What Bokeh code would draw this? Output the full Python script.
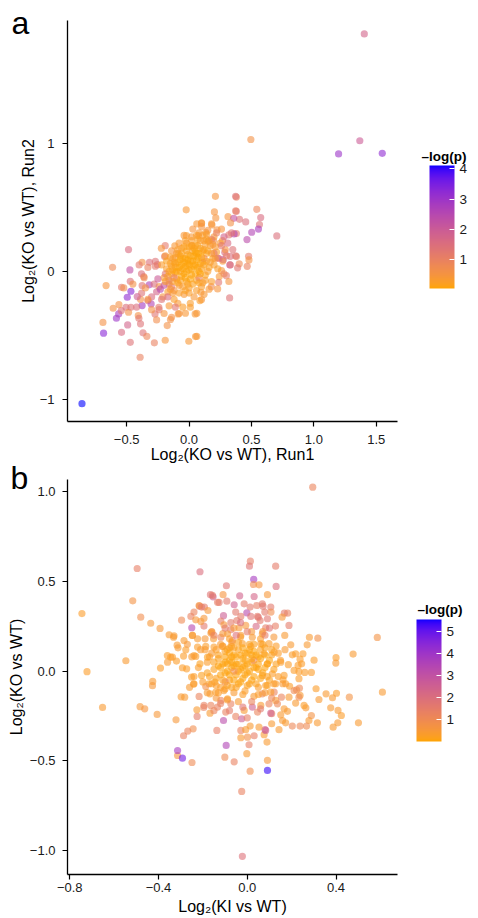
from bokeh.plotting import figure
from bokeh.models import LinearColorMapper, ColorBar, FixedTicker, ColumnDataSource
from bokeh.layouts import column
from bokeh.embed import file_html
from bokeh.resources import INLINE

# ---------------- data: panel a (x = Run1, y = Run2, p = -log(p)) ----------------
a_outliers = [
    (-0.858, -1.035, 4.1), (1.404, 1.855, 1.8), (0.495, 1.03, 0.6), (1.368, 1.02, 2.0),
    (1.198, 0.917, 3.0), (1.548, 0.922, 3.2), (0.703, 0.276, 1.5),
]
a_right = [
    (0.379, 0.58, 1.0), (0.379, 0.469, 1.3), (0.543, 0.484, 0.9), (0.574, 0.42, 1.6),
    (0.454, 0.386, 1.5), (0.404, 0.406, 1.4), (0.564, 0.365, 1.4), (0.556, 0.33, 2.8),
    (0.502, 0.305, 2.6), (0.464, 0.248, 2.4), (0.477, 0.117, 1.2), (0.48, 0.089, 0.6),
    (0.466, 0.039, 1.0), (0.402, 0.058, 0.8), (0.389, 0.027, 1.3), (0.38, 0.115, 1.0),
    (0.379, 0.295, 1.2),
    (0.211, 0.586, 0.5), (0.373, 0.586, 1.4), (0.203, 0.464, 0.5), (0.373, 0.472, 1.1),
    (0.214, 0.417, 0.5), (0.312, 0.427, 0.5), (0.358, 0.414, 2.2), (0.332, 0.378, 0.6),
    (0.183, 0.362, 0.5), (0.1, 0.375, 0.4), (0.224, 0.323, 0.5), (0.134, 0.305, 0.4),
    (0.319, 0.284, 1.3), (0.361, 0.292, 2.6), (0.075, 0.279, 0.4), (0.152, 0.234, 0.3),
    (0.196, 0.24, 0.8), (0.268, 0.24, 0.5), (0.286, 0.148, 1.6), (0.229, 0.104, 1.4),
    (0.273, 0.091, 2.4), (0.33, 0.117, 1.5), (0.373, 0.12, 1.3), (0.327, 0.05, 2.4),
    (0.26, 0.005, 0.4), (0.242, -0.041, 0.4), (0.299, -0.034, 1.2), (0.319, -0.08, 0.5),
    (0.237, -0.086, 1.3), (0.178, -0.12, 0.8), (0.229, -0.138, 0.5), (0.325, -0.208, 1.4),
    (0.095, -0.164, 0.4), (0.1, -0.221, 0.5), (0.062, -0.328, 0.4), (0.062, -0.508, 0.4),
]
a_left = [
    (-0.023, 0.48, 0.4), (-0.485, 0.17, 1.6), (-0.613, 0.031, 0.8), (-0.474, 0.011, 2.3),
    (-0.665, -0.112, 0.5), (-0.471, -0.078, 1.5), (-0.541, -0.125, 1.2), (-0.523, -0.13, 0.7),
    (-0.466, -0.156, 3.3), (-0.495, -0.203, 3.2), (-0.376, -0.112, 1.4), (-0.319, -0.106, 2.7),
    (-0.363, -0.041, 0.9), (-0.381, -0.02, 1.5), (-0.376, 0.07, 0.6), (-0.317, 0.07, 1.5),
    (-0.27, 0.078, 1.4), (-0.253, 0.052, 1.3), (-0.191, 0.2, 1.2), (-0.222, 0.18, 0.5),
    (-0.196, 0.115, 1.3), (-0.608, -0.289, 0.6), (-0.69, -0.4, 0.6), (-0.685, -0.484, 3.3),
    (-0.582, -0.367, 3.0), (-0.564, -0.333, 2.8), (-0.543, -0.307, 1.4), (-0.562, -0.26, 0.6),
    (-0.505, -0.281, 1.5), (-0.485, -0.32, 0.6), (-0.466, -0.281, 1.4), (-0.492, -0.419, 1.8),
    (-0.541, -0.477, 1.6), (-0.471, -0.555, 1.4), (-0.407, -0.346, 0.6), (-0.402, -0.367, 1.3),
    (-0.389, -0.411, 1.4), (-0.369, -0.481, 1.4), (-0.338, -0.508, 0.9), (-0.278, -0.559, 1.0),
    (-0.191, -0.539, 0.5), (-0.392, -0.672, 1.0), (-0.175, -0.424, 0.6), (-0.149, -0.377, 0.6),
    (-0.273, -0.333, 1.3), (-0.376, -0.268, 2.9), (-0.389, -0.219, 0.6), (-0.415, -0.198, 2.0),
    (-0.33, -0.229, 1.4), (-0.304, -0.255, 2.6), (-0.242, -0.281, 1.2), (-0.002, -0.547, 0.4),
    (0.052, -0.51, 0.4), (-0.087, -0.333, 0.4), (-0.029, -0.328, 0.4), (0.01, -0.281, 0.3),
    (0.049, -0.333, 0.4), (0.087, -0.229, 0.3), (0.023, 0.2, 0.3), (0.062, 0.37, 0.4),
    (0.1, 0.378, 0.4), (-0.021, 0.279, 0.3), (-0.114, 0.198, 0.4), (-0.087, 0.136, 0.3),
    (-0.45, -0.10, 0.6), (-0.40, 0.05, 1.2), (-0.42, -0.28, 1.5), (-0.36, -0.05, 0.8),
    (-0.33, 0.03, 1.0), (-0.38, -0.17, 1.4),
]
a_core = [
    (-0.20, -0.05, 0.4), (-0.18, 0.02, 0.3), (-0.16, -0.10, 0.5), (-0.15, 0.06, 0.3),
    (-0.14, -0.02, 0.2), (-0.13, 0.10, 0.4), (-0.12, -0.15, 0.5), (-0.11, 0.03, 0.2),
    (-0.10, -0.06, 0.3), (-0.10, 0.14, 0.3), (-0.09, 0.07, 0.1), (-0.08, -0.11, 0.4),
    (-0.07, 0.00, 0.2), (-0.06, 0.18, 0.3), (-0.06, -0.04, 0.1), (-0.05, 0.10, 0.2),
    (-0.04, -0.18, 0.4), (-0.03, 0.04, 0.1), (-0.02, 0.22, 0.3), (-0.02, -0.08, 0.2),
    (-0.01, 0.13, 0.2), (0.00, 0.01, 0.1), (0.00, -0.13, 0.3), (0.01, 0.08, 0.1),
    (0.02, 0.27, 0.4), (0.02, -0.03, 0.1), (0.03, 0.16, 0.2), (0.04, -0.20, 0.4),
    (0.05, 0.05, 0.1), (0.05, 0.20, 0.2), (0.06, -0.07, 0.2), (0.07, 0.11, 0.1),
    (0.08, 0.30, 0.4), (0.08, 0.00, 0.1), (0.09, 0.18, 0.2), (0.10, -0.12, 0.3),
    (0.11, 0.07, 0.2), (0.12, 0.24, 0.3), (0.13, -0.03, 0.2), (0.14, 0.14, 0.2),
    (0.15, 0.32, 0.5), (0.16, 0.03, 0.2), (0.17, 0.20, 0.3), (0.18, -0.08, 0.3),
    (0.19, 0.10, 0.2), (0.20, 0.27, 0.4), (0.22, 0.15, 0.3), (0.23, 0.02, 0.3),
    (0.25, 0.22, 0.4), (0.26, 0.33, 0.5), (0.27, 0.08, 0.4), (0.29, 0.17, 0.5),
    (-0.24, -0.12, 0.4), (-0.22, 0.05, 0.3), (-0.21, -0.20, 0.5), (-0.19, 0.12, 0.4),
    (-0.17, -0.16, 0.3), (-0.16, -0.27, 0.4), (-0.14, 0.16, 0.5), (-0.12, -0.22, 0.3),
    (-0.09, -0.25, 0.4), (-0.08, 0.22, 0.4), (-0.05, -0.28, 0.3), (-0.04, 0.28, 0.4),
    (-0.03, -0.15, 0.2), (0.01, -0.25, 0.3), (0.03, 0.33, 0.5), (0.06, -0.15, 0.3),
    (0.07, 0.25, 0.2), (0.10, 0.35, 0.5), (0.12, -0.18, 0.4), (0.14, 0.29, 0.3),
    (0.16, -0.14, 0.4), (0.18, 0.37, 0.4), (-0.07, 0.12, 0.1), (-0.01, 0.06, 0.1),
    (0.04, 0.12, 0.1), (0.09, 0.06, 0.1), (-0.11, -0.01, 0.2), (-0.04, -0.02, 0.1),
    (0.02, 0.20, 0.2), (0.11, 0.16, 0.2), (-0.13, 0.01, 0.2), (0.06, 0.14, 0.1),
    (-0.28, -0.10, 1.5), (-0.26, -0.16, 1.8), (-0.25, -0.06, 2.0), (-0.23, -0.14, 2.5),
    (-0.22, -0.22, 1.4), (-0.20, -0.11, 2.2), (-0.19, -0.02, 1.3), (-0.17, -0.20, 1.6),
    (-0.16, -0.07, 1.9), (-0.14, -0.12, 1.2), (-0.12, -0.05, 1.0), (-0.11, -0.28, 1.3),
    (-0.27, 0.04, 1.2), (-0.30, -0.20, 1.6), (-0.24, -0.30, 1.2),
    (0.20, 0.14, 1.2), (0.22, 0.30, 1.0), (0.24, 0.10, 1.5), (0.26, 0.20, 1.3),
    (0.28, 0.27, 1.8), (0.30, 0.12, 1.1), (0.31, 0.22, 1.6), (0.33, 0.05, 1.2),
    (0.35, 0.17, 1.4), (0.18, 0.25, 1.1), (0.12, 0.10, 0.9), (0.08, -0.05, 1.0),
    (0.28, -0.02, 0.9), (0.34, 0.30, 1.3),
    (-0.30, -0.30, 0.6), (-0.26, -0.38, 0.7), (-0.20, -0.33, 0.5), (-0.14, -0.36, 0.6),
    (-0.08, -0.33, 0.5), (-0.33, -0.22, 0.5), (-0.35, -0.13, 0.6),
]
a_dense = [
    (-0.19, -0.08, 0.3), (-0.18, 0.08, 0.2), (-0.17, -0.04, 0.3), (-0.16, 0.00, 0.2),
    (-0.15, -0.14, 0.4), (-0.14, 0.04, 0.2), (-0.13, -0.08, 0.3), (-0.12, 0.07, 0.2),
    (-0.11, 0.11, 0.3), (-0.10, 0.00, 0.1), (-0.09, -0.09, 0.2), (-0.09, 0.17, 0.3),
    (-0.08, 0.03, 0.1), (-0.07, -0.07, 0.2), (-0.07, 0.09, 0.1), (-0.06, 0.14, 0.2),
    (-0.05, -0.12, 0.3), (-0.05, 0.02, 0.1), (-0.04, 0.07, 0.1), (-0.04, 0.19, 0.2),
    (-0.03, -0.05, 0.1), (-0.03, 0.10, 0.1), (-0.02, 0.00, 0.1), (-0.02, 0.16, 0.2),
    (-0.01, -0.10, 0.2), (-0.01, 0.09, 0.1), (0.00, 0.05, 0.1), (0.00, 0.19, 0.2),
    (0.01, -0.06, 0.1), (0.01, 0.12, 0.1), (0.02, 0.02, 0.1), (0.03, 0.08, 0.1),
    (0.03, -0.10, 0.2), (0.04, 0.18, 0.2), (0.04, 0.04, 0.1), (0.05, -0.02, 0.1),
    (0.05, 0.15, 0.1), (0.06, 0.09, 0.1), (0.07, 0.03, 0.1), (0.07, 0.20, 0.2),
    (0.08, -0.09, 0.2), (0.08, 0.14, 0.1), (0.09, 0.24, 0.3), (0.10, 0.02, 0.2),
    (0.10, 0.11, 0.1), (0.11, 0.28, 0.3), (0.12, 0.05, 0.2), (0.12, 0.17, 0.2),
    (0.13, -0.07, 0.3), (0.13, 0.21, 0.3), (0.14, 0.08, 0.2), (0.15, 0.00, 0.3),
    (0.15, 0.16, 0.2), (0.16, 0.24, 0.3), (0.17, 0.07, 0.3), (0.18, 0.14, 0.3),
    (0.19, 0.21, 0.4), (0.20, 0.05, 0.3), (0.21, 0.10, 0.4), (0.21, 0.19, 0.4),
    (-0.15, 0.11, 0.3), (-0.13, -0.17, 0.4), (-0.11, 0.06, 0.2), (-0.08, -0.17, 0.3),
    (-0.06, 0.05, 0.1), (-0.03, 0.24, 0.3), (0.00, -0.17, 0.3), (0.02, 0.24, 0.3),
    (0.06, 0.28, 0.3), (0.09, -0.02, 0.1), (0.11, -0.09, 0.3), (0.14, 0.25, 0.3),
]

# ---------------- data: panel b (x = KI vs WT, y = KO vs WT, p = -log(p)) ----------------
b_outer = [
    (-0.745, 0.321, 0.3), (-0.722, -0.003, 0.3), (-0.652, -0.202, 0.4), (-0.547, 0.058, 0.4),
    (-0.496, 0.572, 1.4), (-0.516, 0.392, 0.7), (-0.48, 0.301, 0.9), (-0.435, 0.267, 0.5),
    (-0.483, -0.198, 0.5), (-0.462, -0.21, 0.6), (-0.426, -0.057, 0.4), (-0.427, -0.081, 0.5),
    (-0.406, -0.241, 0.5), (-0.393, 0.238, 0.5), (-0.391, 0.017, 0.3), (-0.359, 0.05, 0.4),
    (-0.352, 0.203, 0.4), (-0.33, 0.197, 0.4), (-0.316, 0.145, 0.4), (-0.321, -0.271, 0.5),
    (-0.314, -0.47, 0.6), (-0.314, -0.442, 3.8), (-0.292, -0.485, 4.8), (-0.287, -0.36, 1.3),
    (-0.268, -0.334, 1.2), (-0.249, -0.509, 1.0), (-0.244, -0.321, 0.9), (-0.296, 0.284, 1.0),
    (-0.25, 0.242, 3.4), (-0.247, 0.199, 0.4), (-0.213, 0.554, 2.0), (-0.215, 0.362, 1.4),
    (-0.193, 0.357, 1.5), (-0.195, 0.251, 1.6), (-0.24, 0.329, 1.2), (-0.232, 0.082, 0.3),
    (-0.287, 0.084, 0.3), (-0.298, -0.143, 0.4), (-0.242, -0.072, 0.3), (-0.226, -0.252, 1.5),
    (-0.196, -0.202, 1.3), (-0.137, -0.33, 1.4), (-0.095, -0.414, 3.5), (-0.101, -0.479, 1.0),
    (-0.059, -0.505, 1.3), (-0.166, 0.426, 1.8), (-0.154, 0.414, 2.6), (-0.127, 0.383, 1.6),
    (-0.094, 0.476, 1.8), (-0.107, 0.309, 2.6), (-0.034, 0.42, 2.4),
    (0.295, 1.025, 1.2), (0.014, 0.613, 1.4), (0.01, 0.585, 1.8), (0.128, 0.585, 1.5),
    (0.029, 0.511, 3.8), (0.028, 0.483, 0.9), (0.053, 0.481, 0.6), (0.13, 0.472, 2.0),
    (0.091, 0.426, 0.5), (0.031, 0.416, 2.3), (-0.002, 0.325, 3.3), (0.586, 0.188, 0.7),
    (0.609, -0.117, 0.4), (0.501, -0.288, 0.4), (0.477, 0.095, 0.4), (0.46, -0.145, 0.7),
    (0.4, 0.075, 0.3), (0.399, 0.045, 0.4), (0.402, -0.123, 0.3), (0.409, -0.219, 0.4),
    (0.408, -0.288, 0.4), (0.387, -0.312, 0.4), (0.424, -0.247, 0.3), (0.376, -0.204, 0.4),
    (0.384, -0.148, 0.4), (0.355, -0.126, 0.4), (0.318, 0.184, 0.8), (0.28, 0.189, 0.4),
    (0.27, 0.147, 0.4), (0.251, 0.097, 0.3), (0.301, 0.061, 0.3), (0.289, -0.007, 0.3),
    (0.31, -0.098, 0.3), (0.323, -0.158, 0.4), (0.316, -0.288, 0.4), (0.289, -0.247, 0.7),
    (0.278, -0.275, 0.4), (0.267, -0.306, 1.0), (0.238, -0.306, 1.1), (0.203, -0.306, 1.1),
    (0.264, -0.204, 0.4), (0.256, -0.191, 0.3), (0.238, -0.135, 0.4), (0.235, -0.095, 1.0),
    (0.222, -0.104, 0.8), (0.188, -0.145, 0.4), (0.191, -0.084, 0.3), (0.161, -0.048, 0.3),
    (0.185, 0.036, 0.3), (0.233, -0.003, 0.3), (0.259, -0.007, 0.3), (0.245, 0.041, 0.3),
    (0.238, 0.067, 0.3), (0.218, 0.097, 0.3), (0.196, 0.147, 0.4), (0.203, 0.091, 0.3),
    (0.169, 0.199, 0.4), (0.188, 0.255, 1.5), (0.167, 0.323, 1.6), (0.182, 0.323, 1.3),
    (0.157, 0.301, 0.5), (0.127, 0.251, 1.4), (0.106, 0.357, 1.6), (0.071, 0.362, 1.7),
    (0.107, 0.329, 0.9), (0.091, -0.497, 0.5), (0.091, -0.553, 5.4), (0.013, -0.557, 0.9),
    (-0.025, -0.67, 1.3), (-0.022, -1.032, 1.9), (-0.002, -0.46, 0.4), (0.001, -0.368, 0.8),
    (0.031, -0.36, 1.4), (0.089, -0.395, 0.4), (0.076, -0.354, 0.4), (0.11, -0.293, 0.4),
    (0.08, -0.326, 2.4), (0.053, -0.312, 0.4), (0.013, -0.306, 0.4), (0.11, -0.237, 1.3),
    (0.151, -0.243, 0.4), (0.166, -0.21, 0.4), (0.173, -0.288, 0.4), (0.143, -0.326, 0.4),
    (0.128, -0.163, 0.4), (0.154, -0.145, 1.2), (0.121, -0.117, 1.2), (0.023, -0.2, 2.5),
]
b_upper = [
    (-0.157, 0.422, 1.5), (-0.109, 0.426, 0.6), (-0.134, 0.384, 1.4), (-0.092, 0.39, 1.6),
    (-0.059, 0.37, 2.5), (-0.014, 0.375, 1.5), (0.013, 0.357, 1.6), (0.043, 0.366, 1.4),
    (0.068, 0.375, 1.6), (-0.217, 0.366, 0.6), (-0.206, 0.357, 1.5), (-0.177, 0.338, 0.5),
    (-0.052, 0.329, 1.6), (-0.029, 0.305, 1.5), (0.016, 0.305, 1.8), (0.046, 0.305, 1.5),
    (0.079, 0.329, 1.6), (0.091, 0.292, 1.7), (-0.254, 0.305, 1.3), (-0.232, 0.286, 0.5),
    (-0.209, 0.277, 0.5), (-0.195, 0.295, 0.5), (-0.164, 0.212, 0.5), (-0.119, 0.279, 1.4),
    (-0.105, 0.258, 0.5), (-0.074, 0.27, 1.5), (-0.047, 0.282, 1.5), (-0.074, 0.231, 1.6),
    (-0.037, 0.242, 0.5), (-0.007, 0.255, 0.5), (0.058, 0.282, 1.6), (0.083, 0.242, 1.4),
    (-0.332, 0.189, 0.4), (-0.285, 0.171, 0.4), (-0.247, 0.199, 0.4), (-0.224, 0.18, 0.4),
    (-0.16, 0.217, 0.4), (-0.152, 0.18, 0.4), (-0.119, 0.189, 1.2), (-0.089, 0.208, 0.4),
    (-0.067, 0.171, 1.3), (-0.029, 0.199, 0.4), (0.023, 0.189, 0.4), (0.068, 0.208, 0.4),
    (-0.312, 0.13, 0.4), (-0.277, 0.119, 0.3), (-0.224, 0.134, 0.3), (-0.187, 0.138, 0.3),
    (-0.15, 0.134, 0.3), (-0.112, 0.138, 0.3), (-0.071, 0.138, 0.3), (-0.022, 0.153, 0.3),
    (0.016, 0.138, 0.3), (0.061, 0.153, 0.3), (0.098, 0.153, 0.3), (-0.345, 0.078, 0.3),
]
b_lower = [
    (-0.282, -0.145, 0.4), (-0.36, 0.087, 0.3), (-0.319, 0.056, 0.3), (-0.337, 0.078, 0.3),
    (-0.292, 0.019, 0.3), (-0.273, 0.013, 0.3), (-0.251, -0.033, 0.3), (-0.24, -0.07, 0.3),
    (-0.206, -0.024, 0.2), (-0.213, 0.041, 0.2), (-0.24, 0.087, 0.3), (-0.179, 0.078, 0.2),
    (-0.172, -0.07, 0.2), (-0.187, -0.085, 0.8), (-0.146, -0.061, 0.2), (-0.142, -0.117, 0.3),
    (-0.168, -0.126, 0.3), (-0.105, -0.108, 0.3), (-0.089, -0.154, 0.3), (-0.217, -0.141, 1.2),
    (-0.227, -0.215, 0.4), (-0.195, -0.191, 1.3), (-0.164, -0.191, 1.2), (-0.168, -0.234, 0.4),
    (-0.134, -0.2, 1.3), (-0.119, -0.163, 1.2), (-0.107, -0.275, 3.2), (-0.097, -0.228, 1.3),
    (-0.074, -0.182, 1.3), (-0.052, -0.252, 1.3), (-0.025, -0.265, 2.6), (-0.014, -0.219, 0.4),
    (0.046, -0.228, 1.2), (0.061, -0.191, 0.4), (-0.029, -0.33, 1.3), (-0.007, -0.326, 0.4),
    (-0.029, -0.371, 0.4), (0.008, -0.41, 1.4),
    (0.076, 0.097, 0.3), (0.121, 0.106, 0.3), (0.091, 0.041, 0.3), (0.151, 0.05, 0.3),
    (0.229, 0.032, 0.3), (0.068, -0.024, 0.3), (0.113, -0.015, 0.3), (0.166, -0.024, 0.3),
    (0.211, 0.004, 0.3), (0.233, -0.042, 0.3), (0.128, -0.07, 0.3), (0.173, -0.07, 0.3),
    (0.083, -0.08, 0.3), (0.068, -0.126, 1.1), (0.106, -0.117, 0.3), (0.211, -0.108, 1.0),
    (0.233, -0.145, 1.0), (0.218, -0.178, 0.4), (0.181, -0.224, 0.4), (0.106, -0.234, 2.5),
    (0.098, -0.182, 1.2), (0.136, -0.182, 1.1), (0.159, -0.275, 0.4), (0.083, -0.33, 2.5),
]
b_core = [
    (-0.18, 0.05, 0.3), (-0.17, -0.03, 0.2), (-0.16, 0.10, 0.4), (-0.15, 0.01, 0.2),
    (-0.14, -0.08, 0.3), (-0.13, 0.07, 0.2), (-0.12, 0.15, 0.4), (-0.12, -0.02, 0.1),
    (-0.11, 0.04, 0.1), (-0.10, -0.10, 0.3), (-0.10, 0.11, 0.2), (-0.09, 0.00, 0.1),
    (-0.08, 0.06, 0.1), (-0.08, -0.05, 0.2), (-0.07, 0.16, 0.3), (-0.07, 0.02, 0.1),
    (-0.06, -0.12, 0.4), (-0.06, 0.09, 0.1), (-0.05, -0.02, 0.1), (-0.05, 0.04, 0.1),
    (-0.04, 0.12, 0.2), (-0.04, -0.07, 0.1), (-0.03, 0.01, 0.1), (-0.03, 0.19, 0.3),
    (-0.02, 0.07, 0.1), (-0.02, -0.04, 0.1), (-0.01, -0.11, 0.3), (-0.01, 0.03, 0.1),
    (0.00, 0.10, 0.1), (0.00, -0.01, 0.1), (0.01, 0.15, 0.2), (0.01, -0.07, 0.2),
    (0.02, 0.05, 0.1), (0.03, -0.03, 0.1), (0.03, 0.11, 0.1), (0.04, 0.02, 0.1),
    (0.05, -0.09, 0.3), (0.05, 0.08, 0.1), (0.06, 0.18, 0.3), (0.07, -0.01, 0.1),
    (0.08, 0.13, 0.2), (0.09, 0.04, 0.1), (0.10, -0.05, 0.2), (0.11, 0.09, 0.2),
    (0.12, 0.01, 0.2), (0.13, 0.14, 0.3), (0.14, -0.03, 0.3), (0.15, 0.06, 0.3),
    (-0.22, 0.02, 0.3), (-0.21, 0.12, 0.4), (-0.20, -0.06, 0.3), (-0.19, 0.18, 0.5),
    (-0.18, -0.12, 0.4), (-0.16, 0.22, 0.6), (-0.14, -0.15, 0.5), (-0.11, 0.21, 0.5),
    (-0.09, -0.16, 0.4), (-0.06, 0.24, 0.5), (-0.04, -0.17, 0.4), (0.02, 0.22, 0.5),
    (0.03, -0.14, 0.4), (0.07, 0.22, 0.6), (0.08, -0.12, 0.4), (0.12, 0.19, 0.5),
    (0.16, -0.07, 0.4), (0.17, 0.12, 0.4), (-0.25, 0.08, 0.4), (-0.24, -0.03, 0.3),
    (-0.27, 0.15, 0.5), (-0.26, -0.09, 0.4), (-0.13, 0.03, 0.1), (-0.07, 0.08, 0.1),
    (-0.01, 0.06, 0.1), (0.05, 0.01, 0.1), (-0.10, 0.05, 0.1), (-0.04, 0.00, 0.1),
    (0.02, 0.09, 0.1), (-0.08, 0.13, 0.2), (0.06, 0.12, 0.2), (0.09, -0.08, 0.2),
    (-0.15, 0.20, 1.3), (-0.10, 0.24, 1.6), (-0.05, 0.20, 1.9), (0.00, 0.22, 1.5),
    (0.04, 0.25, 2.2), (0.08, 0.20, 1.4), (0.10, 0.24, 1.8), (-0.03, 0.27, 2.0),
    (0.05, 0.30, 1.7), (-0.12, -0.18, 1.3), (-0.08, -0.22, 1.5), (-0.02, -0.20, 1.8),
    (0.02, -0.17, 1.2), (0.06, -0.21, 1.6), (-0.15, -0.22, 1.2), (0.00, -0.26, 1.4),
    (0.11, -0.15, 1.1), (-0.06, 0.00, 0.9), (0.03, 0.06, 1.0), (-0.10, -0.06, 1.1),
]
b_dense = [
    (-0.15, 0.05, 0.2), (-0.14, 0.12, 0.3), (-0.14, -0.04, 0.2), (-0.13, 0.09, 0.2),
    (-0.12, -0.09, 0.3), (-0.12, 0.02, 0.1), (-0.11, 0.14, 0.3), (-0.11, -0.05, 0.2),
    (-0.10, 0.08, 0.1), (-0.10, -0.01, 0.1), (-0.09, 0.12, 0.2), (-0.09, -0.08, 0.2),
    (-0.09, 0.04, 0.1), (-0.08, 0.10, 0.1), (-0.08, -0.02, 0.1), (-0.07, -0.09, 0.2),
    (-0.07, 0.05, 0.1), (-0.06, 0.13, 0.2), (-0.06, -0.05, 0.1), (-0.06, 0.03, 0.1),
    (-0.05, 0.08, 0.1), (-0.05, -0.09, 0.2), (-0.04, 0.16, 0.2), (-0.04, 0.04, 0.1),
    (-0.03, -0.06, 0.1), (-0.03, 0.09, 0.1), (-0.02, 0.02, 0.1), (-0.02, 0.13, 0.1),
    (-0.01, -0.02, 0.1), (-0.01, 0.10, 0.1), (0.00, 0.04, 0.1), (0.00, -0.08, 0.2),
    (0.01, 0.12, 0.1), (0.01, 0.00, 0.1), (0.02, -0.05, 0.1), (0.02, 0.07, 0.1),
    (0.03, 0.15, 0.2), (0.03, 0.02, 0.1), (0.04, -0.07, 0.2), (0.04, 0.09, 0.1),
    (0.05, 0.04, 0.1), (0.06, -0.04, 0.1), (0.06, 0.07, 0.1), (0.07, 0.15, 0.2),
    (0.08, 0.02, 0.1), (0.08, 0.09, 0.1), (0.09, -0.03, 0.2), (0.10, 0.06, 0.1),
    (0.11, 0.12, 0.2), (0.12, -0.07, 0.3), (-0.17, 0.08, 0.3), (-0.18, -0.01, 0.2),
    (-0.16, -0.07, 0.3), (-0.19, 0.12, 0.4), (-0.13, -0.12, 0.3), (-0.08, 0.18, 0.3),
    (-0.02, -0.13, 0.3), (0.05, -0.13, 0.3), (0.13, 0.04, 0.2), (0.14, 0.10, 0.3),
]

a_xticks = [-0.5, 0.0, 0.5, 1.0, 1.5]
a_yticks = [-1, 0, 1]
b_xticks = [-0.8, -0.4, 0.0, 0.4]
b_yticks = [-1.0, -0.5, 0.0, 0.5, 1.0]
a_cbar_ticks = [1, 2, 3, 4]
b_cbar_ticks = [1, 2, 3, 4, 5]

FONT = "Liberation Sans"


# ---------------- orange -> blue gradient in Lab space ----------------
def _lin(c):
    c = c / 255.0
    return c / 12.92 if c <= 0.04045 else ((c + 0.055) / 1.055) ** 2.4


def _gam(c):
    c = 12.92 * c if c <= 0.0031308 else 1.055 * c ** (1 / 2.4) - 0.055
    return max(0, min(255, round(c * 255)))


def _to_lab(hexc):
    r, g, b = (_lin(int(hexc[i:i + 2], 16)) for i in (1, 3, 5))
    X = (0.4124 * r + 0.3576 * g + 0.1805 * b) / 0.95047
    Y = (0.2126 * r + 0.7152 * g + 0.0722 * b)
    Z = (0.0193 * r + 0.1192 * g + 0.9505 * b) / 1.08883
    f = lambda t: t ** (1 / 3) if t > 0.008856 else 7.787 * t + 16 / 116
    fx, fy, fz = f(X), f(Y), f(Z)
    return 116 * fy - 16, 500 * (fx - fy), 200 * (fy - fz)


def _from_lab(L, a, b):
    fy = (L + 16) / 116
    fx = fy + a / 500
    fz = fy - b / 200
    g = lambda t: t ** 3 if t ** 3 > 0.008856 else (t - 16 / 116) / 7.787
    X, Y, Z = g(fx) * 0.95047, g(fy), g(fz) * 1.08883
    r = 3.2406 * X - 1.5372 * Y - 0.4986 * Z
    gg = -0.9689 * X + 1.8758 * Y + 0.0415 * Z
    bb = 0.0557 * X - 0.2040 * Y + 1.0570 * Z
    return "#%02x%02x%02x" % (_gam(max(r, 0)), _gam(max(gg, 0)), _gam(max(bb, 0)))


def lab_palette(c1, c2, n=256):
    l1, l2 = _to_lab(c1), _to_lab(c2)
    return [_from_lab(*[l1[k] + (l2[k] - l1[k]) * i / (n - 1) for k in range(3)]) for i in range(n)]


PALETTE = lab_palette("#FFA500", "#0000FF")


def minus(v, fmt):
    return (fmt % v).replace("-", "\u2212")


def text_bar(mapper, text, loc, size, style):
    """A bar-less horizontal colour bar used only to carry a text title outside the frame."""
    return ColorBar(color_mapper=mapper, orientation="horizontal", width=1, height=1,
                    ticker=FixedTicker(ticks=[]), location=loc, padding=0, margin=0,
                    title=text, title_text_font=FONT, title_text_font_size=size,
                    title_text_font_style=style, title_text_color="black", title_standoff=0,
                    scale_alpha=0, bar_line_color=None, major_tick_line_color=None,
                    minor_tick_line_color=None, major_label_text_alpha=0,
                    background_fill_color=None, border_line_color=None)


def make_panel(points, xr, yr, xticks, yticks, xfmt, yfmt, xlabel, ylabel, low, high, cticks,
               w, h, bl, bt, bb, br, letter, letter_loc, cbar_loc, cbar_h,
               x_standoff, y_standoff, ctitle_loc):
    p = figure(x_range=xr, y_range=yr, width=w, height=h,
               min_border_left=bl, min_border_top=bt, min_border_bottom=bb, min_border_right=br,
               toolbar_location=None, output_backend="svg", background_fill_color="white",
               border_fill_color="white", outline_line_color=None)
    p.grid.visible = False
    mapper = LinearColorMapper(palette=PALETTE, low=low, high=high)
    src = ColumnDataSource(dict(x=[t[0] for t in points], y=[t[1] for t in points],
                                p=[t[2] for t in points]))
    p.scatter("x", "y", source=src, size=7.2, fill_alpha=0.6, line_color=None,
              fill_color={"field": "p", "transform": mapper})

    for ax, ticks, fmt, lab, so in ((p.xaxis[0], xticks, xfmt, xlabel, x_standoff),
                                    (p.yaxis[0], yticks, yfmt, ylabel, y_standoff)):
        ax.ticker = FixedTicker(ticks=ticks)
        ax.major_label_overrides = {t: minus(t, fmt) for t in ticks}
        ax.minor_tick_line_color = None
        ax.major_tick_out = 5
        ax.major_tick_in = 0
        ax.axis_line_width = 1.3
        ax.major_tick_line_width = 1.2
        ax.axis_line_color = "black"
        ax.major_tick_line_color = "black"
        ax.major_label_text_font = FONT
        ax.major_label_text_font_size = "13px"
        ax.major_label_text_color = "#1a1a1a"
        ax.axis_label = lab
        ax.axis_label_text_font = FONT
        ax.axis_label_text_font_size = "16px"
        ax.axis_label_text_font_style = "normal"
        ax.axis_label_text_color = "black"
        ax.major_label_standoff = so[0]
        ax.axis_label_standoff = so[1]

    cb = ColorBar(color_mapper=mapper, ticker=FixedTicker(ticks=cticks), width=25, height=cbar_h,
                  location=cbar_loc, padding=0, margin=0,
                  major_label_text_font=FONT, major_label_text_font_size="13.5px",
                  major_label_text_color="#1a1a1a", label_standoff=5,
                  major_tick_line_color="white", major_tick_in=5, major_tick_out=0,
                  minor_tick_line_color=None, bar_line_color=None,
                  background_fill_color=None, border_line_color=None)
    p.add_layout(cb, "center")
    p.add_layout(text_bar(mapper, "\u2013log(p)", ctitle_loc, "13.5px", "bold"), "center")
    p.add_layout(text_bar(mapper, letter, letter_loc, "32px", "normal"), "center")
    return p


pa = make_panel(a_outliers + a_right + a_left + a_core + a_dense, (-0.974, 1.67), (-1.174, 1.96),
                a_xticks, a_yticks, "%.1f", "%d",
                "Log\u2082(KO vs WT), Run1", "Log\u2082(KO vs WT), Run2", 0.06, 4.11, a_cbar_ticks,
                478, 465, 66, 20, 44, 70, "a", (-56, 380), (362, 133), 123, (8, -1), (8, 0),
                (354, 257))
pb = make_panel(b_outer + b_upper + b_lower + b_core + b_dense, (-0.81, 0.677), (-1.133, 1.068),
                b_xticks, b_yticks, "%.1f", "%.1f",
                "Log\u2082(KI vs WT)", "Log\u2082(KO vs WT)", 0.0, 5.56, b_cbar_ticks,
                478, 453, 67, 14, 44, 81, "b", (-57, 377.5), (349, 133), 122, (3, 3), (7, 2),
                (350, 257))

layout = column(pa, pb, spacing=0)
open("out.html", "w").write(file_html(layout, INLINE))
